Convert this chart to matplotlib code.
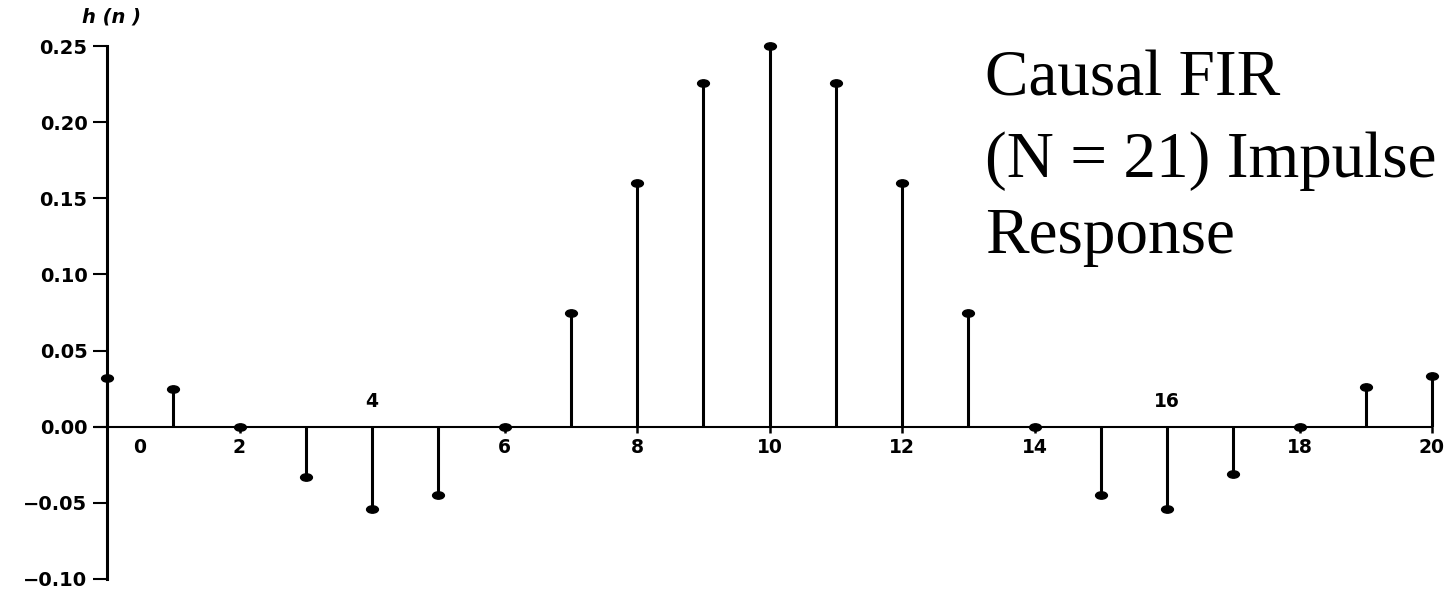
import numpy as np
import matplotlib
matplotlib.use("Agg")
import matplotlib.pyplot as plt
from matplotlib.path import Path
from matplotlib.transforms import Affine2D
from matplotlib.transforms import offset_copy

# ---- data ----
n = list(range(21))
h = [0.032, 0.025, 0.000, -0.033, -0.054, -0.045, 0.000, 0.075, 0.160, 0.226,
     0.250, 0.226, 0.160, 0.075, 0.000, -0.045, -0.054, -0.031, 0.000, 0.026, 0.033]
y_ticks = [-0.10, -0.05, 0.00, 0.05, 0.10, 0.15, 0.20, 0.25]
x_ticks = [2, 4, 6, 8, 10, 12, 14, 16, 18, 20]
x_labels = ["0", "2", "4", "6", "8", "10", "12", "14", "16", "18", "20"]
x_label_pos = [0.5, 2, 4, 6, 8, 10, 12, 14, 16, 18, 20]
x_label_above = [False, False, True, False, False, False, False, False, True, False, False]
title_lines = ["Causal FIR", "(N = 21) Impulse", "Response"]

W, H = 1454, 592
fig = plt.figure(figsize=(W / 100, H / 100), dpi=100)
left = 107 / W
bottom = 1 - 579 / H
top = 1 - 46 / H
ax = fig.add_axes([left, bottom, 1 - left, top - bottom])
ax.set_xlim(0, (W - 107) / 66.25)
ax.set_ylim(-0.10, 0.25)

# ellipse marker
ell = Affine2D().scale(1.6, 1.0).transform_path(Path.unit_circle())

# zero line
ax.plot([-0.18, 20], [0, 0], color="black", lw=1.5, clip_on=False, zorder=1)
# stems
ax.vlines(n, 0, h, colors="black", lw=2.2, clip_on=False, zorder=2)
ax.plot(n, h, linestyle="none", marker=ell, markersize=8.5, color="black",
        clip_on=False, zorder=3)

for sp in ["top", "right"]:
    ax.spines[sp].set_visible(False)
ax.spines["bottom"].set_position(("data", 0))
ax.spines["bottom"].set_visible(False)
ax.spines["left"].set_linewidth(2.2)
ax.spines["left"].set_position(("data", 0))

ax.set_xticks(x_ticks)
ax.set_xticklabels([])
ax.tick_params(axis="x", direction="out", length=4.5, width=1.8)
ax.set_yticks(y_ticks)
ax.set_yticklabels([("\u2212" if v < 0 else "") + f"{abs(v):.2f}" for v in y_ticks])
ax.tick_params(axis="y", direction="out", length=10, width=1.5, pad=4,
               labelsize=14)
for lab in ax.get_yticklabels():
    lab.set_fontweight("bold")
    lab.set_family("DejaVu Sans")

# x labels
for lab, xp, above in zip(x_labels, x_label_pos, x_label_above):
    if above:
        tr = offset_copy(ax.transData, fig=fig, x=0, y=11, units="points")
        ax.text(xp, 0, lab, transform=tr, ha="center", va="bottom",
                fontsize=13.5, fontweight="bold", family="DejaVu Sans")
    else:
        tr = offset_copy(ax.transData, fig=fig, x=0, y=-8, units="points")
        ax.text(xp, 0, lab, transform=tr, ha="center", va="top",
                fontsize=13.5, fontweight="bold", family="DejaVu Sans")

# y label h(n)
fig.text(111 / W, 1 - 17 / H, "h (n )", ha="center", va="center",
         fontsize=14, fontstyle="italic", fontweight="bold", family="DejaVu Sans")

# title text
baselines = [96, 177, 253]
for line, b in zip(title_lines, baselines):
    fig.text(985 / W, 1 - b / H, line, ha="left", va="baseline",
             fontsize=47, family="Liberation Serif")

fig.savefig("out.png", dpi=100)
